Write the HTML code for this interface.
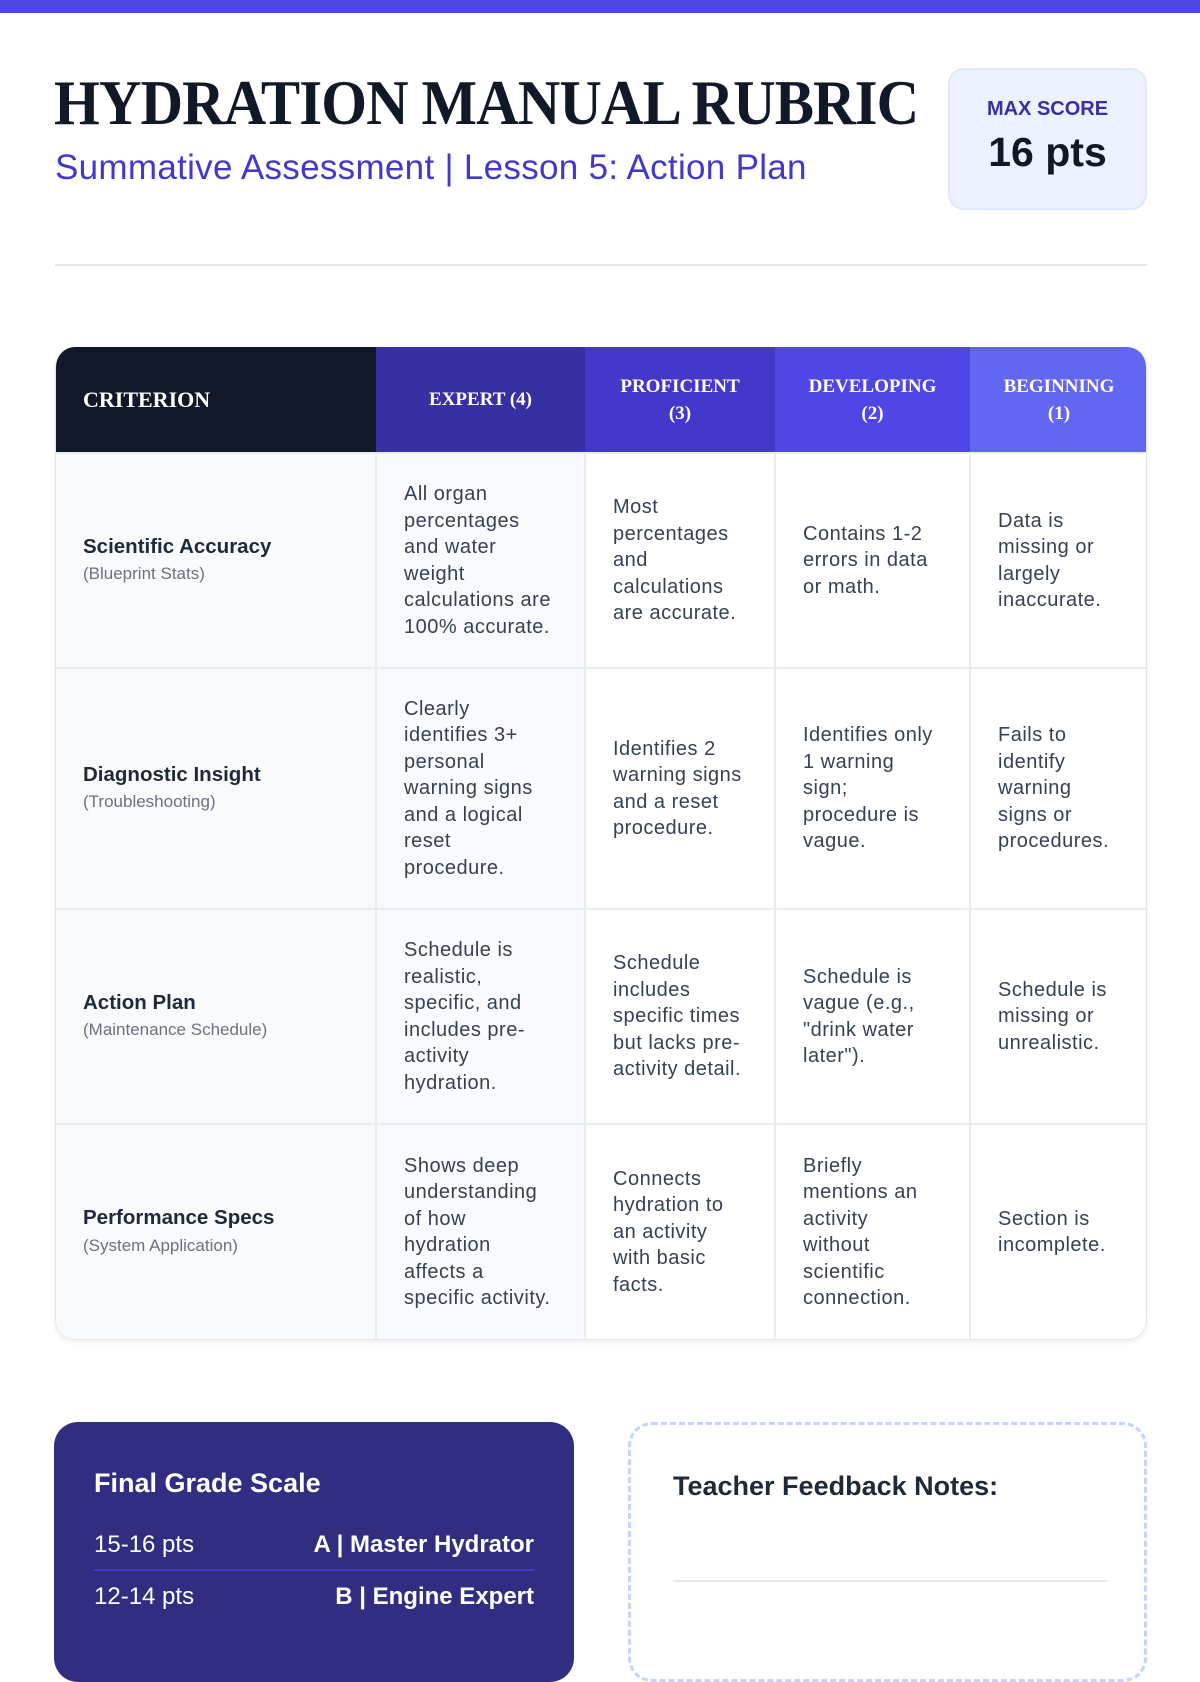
<!DOCTYPE html>
<html><head><meta charset="utf-8"><style>
*{box-sizing:border-box;margin:0;padding:0}
body{width:1200px;height:1600px;overflow:hidden;background:#fff;font-family:"Liberation Sans",sans-serif;position:relative}
.bar{position:absolute;left:0;top:0;width:1200px;height:13px;background:#4f46e5}
h1{position:absolute;left:54px;top:66px;font-family:"Liberation Serif",serif;font-weight:bold;font-size:64px;color:#111827;letter-spacing:-1px;white-space:nowrap;transform:scaleX(0.92);transform-origin:left}
.sub{position:absolute;left:55px;top:148px;font-size:35px;color:#4338ca;white-space:nowrap;letter-spacing:0.3px}
.max{position:absolute;left:948px;top:68px;width:199px;height:142px;background:#eef2ff;border:2px solid #e0e7ff;border-radius:16px;text-align:center}
.max .l{margin-top:28px;font-size:20px;font-weight:bold;color:#3730a3}
.max .v{margin-top:8px;font-size:41px;font-weight:bold;color:#111827}
.hr{position:absolute;left:55px;top:264px;width:1092px;height:2px;background:#e5e7eb}
.tw{position:absolute;left:55px;top:347px;width:1092px;border-radius:20px;overflow:hidden;box-shadow:0 2px 6px rgba(0,0,0,.08);border:1px solid #e5e7eb;border-top:none}
table{border-collapse:collapse;width:1092px;table-layout:fixed}
th{height:106px;color:#fff;font-family:"Liberation Serif",serif;font-weight:bold;font-size:19px;text-align:center;line-height:27px;padding:0 10px}
th.c{text-align:left;padding-left:27px;background:#111827;font-size:22px}
td{vertical-align:middle;padding:0 10px 0 27px;font-size:20px;letter-spacing:0.5px;line-height:26.5px;color:#374151;border:2px solid #e9ecf1;white-space:nowrap}
td.k{background:#f8fafc;border-left:none;letter-spacing:0}
td.k b{display:block;font-size:20.5px;color:#1f2937}
td.k span{font-size:17px;color:#6b7280}
td.e{background:#f8faff}
</style></head><body>
<div class="bar"></div>
<h1>HYDRATION MANUAL RUBRIC</h1>
<div class="sub">Summative Assessment | Lesson 5: Action Plan</div>
<div class="max"><div class="l">MAX SCORE</div><div class="v">16 pts</div></div>
<div class="hr"></div>
<div class="tw"><table>
<colgroup><col style="width:320px"><col style="width:209px"><col style="width:190px"><col style="width:195px"><col style="width:178px"></colgroup>
<tr><th class="c">CRITERION</th><th style="background:#3730a3">EXPERT (4)</th><th style="background:#4338ca">PROFICIENT<br>(3)</th><th style="background:#4f46e5">DEVELOPING<br>(2)</th><th style="background:#6366f1">BEGINNING<br>(1)</th></tr>
<tr style="height:215px"><td class="k"><b>Scientific Accuracy</b><span>(Blueprint Stats)</span></td><td class="e">All organ<br>percentages<br>and water<br>weight<br>calculations are<br>100% accurate.</td><td>Most<br>percentages<br>and<br>calculations<br>are accurate.</td><td>Contains 1-2<br>errors in data<br>or math.</td><td>Data is<br>missing or<br>largely<br>inaccurate.</td></tr>
<tr style="height:241px"><td class="k"><b>Diagnostic Insight</b><span>(Troubleshooting)</span></td><td class="e">Clearly<br>identifies 3+<br>personal<br>warning signs<br>and a logical<br>reset<br>procedure.</td><td>Identifies 2<br>warning signs<br>and a reset<br>procedure.</td><td>Identifies only<br>1 warning<br>sign;<br>procedure is<br>vague.</td><td>Fails to<br>identify<br>warning<br>signs or<br>procedures.</td></tr>
<tr style="height:215px"><td class="k"><b>Action Plan</b><span>(Maintenance Schedule)</span></td><td class="e">Schedule is<br>realistic,<br>specific, and<br>includes pre-<br>activity<br>hydration.</td><td>Schedule<br>includes<br>specific times<br>but lacks pre-<br>activity detail.</td><td>Schedule is<br>vague (e.g.,<br>"drink water<br>later").</td><td>Schedule is<br>missing or<br>unrealistic.</td></tr>
<tr style="height:215px"><td class="k" style="border-bottom:none"><b>Performance Specs</b><span>(System Application)</span></td><td class="e" style="border-bottom:none">Shows deep<br>understanding<br>of how<br>hydration<br>affects a<br>specific activity.</td><td style="border-bottom:none">Connects<br>hydration to<br>an activity<br>with basic<br>facts.</td><td style="border-bottom:none">Briefly<br>mentions an<br>activity<br>without<br>scientific<br>connection.</td><td style="border-bottom:none;border-right:none">Section is<br>incomplete.</td></tr>
</table></div>
<div style="position:absolute;left:54px;top:1422px;width:520px;height:260px;background:#312e81;border-radius:24px;color:#fff;padding:0 40px">
<div style="margin-top:46px;font-size:27px;font-weight:bold">Final Grade Scale</div>
<div style="margin-top:32px;display:flex;justify-content:space-between;font-size:24px;padding-bottom:10px;border-bottom:2px solid #4338ca"><span>15-16 pts</span><b>A | Master Hydrator</b></div>
<div style="margin-top:12px;display:flex;justify-content:space-between;font-size:24px"><span>12-14 pts</span><b>B | Engine Expert</b></div>
</div>
<div style="position:absolute;left:628px;top:1422px;width:519px;height:260px;border:3px dashed #c7d2fe;border-radius:24px">
<div style="position:absolute;left:42px;top:46px;font-size:27px;font-weight:bold;color:#1f2937">Teacher Feedback Notes:</div>
<div style="position:absolute;left:42px;top:155px;width:434px;height:2px;background:#e5e7eb"></div>
</div>
</body></html>
